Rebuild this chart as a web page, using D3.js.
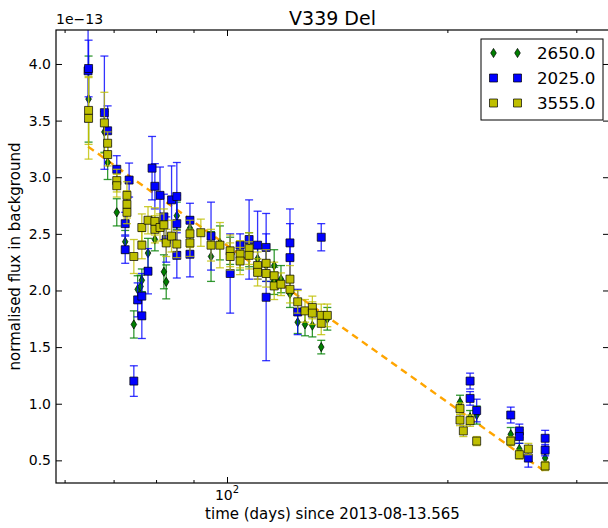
<!DOCTYPE html>
<head>
<meta charset="utf-8">
<style>
    body { margin: 0; background: #fff; }
    text { font-family: "DejaVu Sans", sans-serif; fill: #000; }
    .axis path { display: none; }
    .axis line { stroke: #000; stroke-width: 1; }
</style>
</head>
<body>
    <script src="https://d3js.org/d3.v7.min.js"></script>
    <script>

    ///////////////////////////
    ////////// DATA ///////////
    ///////////////////////////

    // 2650.0 (green diamonds)
    const gDays = [64.7, 68.0, 68.7, 70.7, 72.6, 74.6, 75.5, 76.2, 76.5, 78.0, 79.7, 82.0, 82.6, 85.4, 89.0,
                   95.1, 97.8, 101.0, 104.2, 107.2, 110.1, 113.1, 116.0, 116.0, 118.5, 121.9, 124.9, 127.8,
                   130.8, 134.5, 137.1, 208.1, 214.8, 219.3, 244.1, 250.8, 272.0];
    const gFlux = [3.69, 3.40, 3.13, 2.69, 2.43, 1.70, 2.01, 2.035, 2.09, 2.33, 2.45, 2.165, 2.076, 2.66, 2.55,
                   2.30, 2.42, 2.35, 2.30, 2.36, 2.28, 2.22, 2.22, 2.085, 2.10, 1.97, 1.72, 1.70,
                   1.69, 1.50, 1.75, 1.015, 0.88, 0.90, 0.73, 0.60, 0.52];
    const gErr  = [0.38, 0.18, 0.15, 0.12, 0.10, 0.12, 0.12, 0.10, 0.10, 0.13, 0.10, 0.15, 0.15, 0.12, 0.10,
                   0.22, 0.15, 0.12, 0.12, 0.15, 0.12, 0.14, 0.14, 0.12, 0.12, 0.12, 0.10, 0.10,
                   0.10, 0.06, 0.10, 0.06, 0.06, 0.08, 0.06, 0.05, 0.05];

    // 2025.0 (blue squares)
    const bDays = [64.6, 64.7, 68.0, 68.7, 70.7, 72.6, 72.6, 73.5, 74.6, 75.5, 76.5, 76.5, 78.0, 79.0, 79.7,
                   81.0, 82.0, 82.6, 84.0, 85.4, 85.4, 85.4, 89.0, 89.0, 95.1, 101.0, 104.2, 107.2, 110.1,
                   113.1, 113.1, 121.9, 121.9, 124.9, 134.5, 214.8, 214.8, 219.3, 244.1, 250.8, 250.8,
                   258.0, 272.0, 272.0];
    const bFlux = [3.94, 3.96, 3.57, 3.41, 3.07, 2.59, 2.36, 2.975, 1.20, 1.917, 1.95, 1.776, 2.17, 3.08, 2.92,
                   2.84, 2.65, 2.45, 2.80, 2.83, 2.59, 2.31, 2.62, 2.32, 2.48, 2.15, 2.40, 2.45, 2.40,
                   2.38, 1.94, 2.42, 2.29, 1.81, 2.47, 1.20, 1.047, 0.94, 0.90, 0.76, 0.71,
                   0.52, 0.695, 0.59];
    const bErr  = [0.45, 0.25, 0.50, 0.22, 0.12, 0.10, 0.12, 0.15, 0.135, 0.15, 0.20, 0.20, 0.20, 0.28, 0.20,
                   0.25, 0.20, 0.20, 0.30, 0.30, 0.25, 0.20, 0.15, 0.20, 0.30, 0.35, 0.10, 0.35, 0.30,
                   0.30, 0.56, 0.30, 0.30, 0.20, 0.12, 0.07, 0.06, 0.10, 0.07, 0.06, 0.06,
                   0.08, 0.07, 0.05];

    // 3555.0 (yellow squares)
    const yDays = [64.7, 64.7, 68.0, 68.7, 68.7, 70.7, 70.7, 73.0, 73.0, 73.0, 74.6, 76.5, 76.5, 78.0, 79.7,
                   79.7, 81.0, 82.0, 82.6, 84.0, 85.4, 89.0, 89.0, 92.1, 95.1, 97.8, 101.0, 101.0, 104.2,
                   104.2, 107.2, 107.2, 110.1, 110.1, 113.1, 113.1, 116.0, 116.0, 118.5, 121.9, 121.9,
                   124.9, 127.8, 130.8, 130.8, 134.5, 134.5, 137.1, 208.1, 208.1, 210.3, 214.8, 219.3,
                   244.1, 250.8, 258.0, 272.0];
    const yFlux = [3.59, 3.52, 3.48, 3.30, 3.20, 2.97, 2.925, 2.84, 2.76, 2.69, 2.30, 2.40, 2.556, 2.62, 2.61,
                   2.54, 2.556, 2.58, 2.42, 2.48, 2.41, 2.50, 2.42, 2.51, 2.40, 2.40, 2.35, 2.30, 2.32,
                   2.26, 2.37, 2.31, 2.22, 2.16, 2.24, 2.15, 2.13, 2.04, 2.055, 2.10, 2.01,
                   1.90, 1.82, 1.85, 1.80, 1.78, 1.71, 1.78, 0.957, 0.856, 0.76, 0.85, 0.67,
                   0.67, 0.55, 0.60, 0.45];
    const yErr  = [0.30, 0.36, 0.27, 0.10, 0.10, 0.10, 0.10, 0.12, 0.12, 0.10, 0.15, 0.12, 0.12, 0.12, 0.12,
                   0.12, 0.12, 0.14, 0.12, 0.14, 0.12, 0.12, 0.12, 0.12, 0.14, 0.20, 0.14, 0.12, 0.12,
                   0.12, 0.14, 0.12, 0.12, 0.12, 0.12, 0.12, 0.12, 0.12, 0.10, 0.12, 0.12,
                   0.10, 0.10, 0.10, 0.10, 0.10, 0.10, 0.10, 0.05, 0.05, 0.05, 0.05, 0.04,
                   0.04, 0.04, 0.05, 0.04];

    // fitted trend (dashed orange), end points
    const fitDays = [64.6, 272.0];
    const fitFlux = [3.27, 0.40];

    const xMajor = [100];
    const xMinor = [60, 70, 80, 90, 200, 300];
    const yTicks = [0.5, 1.0, 1.5, 2.0, 2.5, 3.0, 3.5, 4.0];
    const legendLabels = ['2650.0', '2025.0', '3555.0'];

    ///////////////////////////
    ////////// SETUP //////////
    ///////////////////////////

    const W = 608, H = 528;
    const plot = { left: 56, top: 30, right: 609, bottom: 483 };

    let svg = d3.select('body').append('svg')
        .attr('width', W)
        .attr('height', H);

    let x = d3.scaleLog().domain([58.4, 332.5]).range([plot.left, plot.right]);
    let y = d3.scaleLinear().domain([0.3, 4.3]).range([plot.bottom, plot.top]);

    svg.append('clipPath').attr('id', 'clip')
        .append('rect')
        .attr('x', plot.left).attr('y', plot.top)
        .attr('width', plot.right - plot.left).attr('height', plot.bottom - plot.top);

    const series = [
        { name: legendLabels[0], color: '#008000', shape: 'diamond', days: gDays, flux: gFlux, err: gErr },
        { name: legendLabels[1], color: '#0000ff', shape: 'square', days: bDays, flux: bFlux, err: bErr },
        { name: legendLabels[2], color: '#bfbf00', shape: 'square', days: yDays, flux: yFlux, err: yErr }
    ];

    function markerPath(shape) {
        if (shape === 'diamond') return 'M0,-4.6L2.8,0L0,4.6L-2.8,0Z';
        return 'M-4,-4H4V4H-4Z';
    }

    //////////////////////////
    ////////// MARKS /////////
    //////////////////////////

    let base = svg.append('g').attr('clip-path', 'url(#clip)');

    base.append('path')
        .datum(d3.zip(fitDays, fitFlux))
        .attr('d', d3.line().x(d => x(d[0])).y(d => y(d[1])))
        .attr('fill', 'none')
        .attr('stroke', '#ffa500')
        .attr('stroke-width', 2.4)
        .attr('stroke-dasharray', '7,5');

    series.forEach(s => {
        let pts = s.days.map((d, i) => ({ t: d, v: s.flux[i], e: s.err[i] }));
        let bars = base.append('g')
            .attr('stroke', s.color)
            .attr('stroke-width', 1.3)
            .attr('stroke-opacity', 0.8);
        bars.selectAll('line.v').data(pts).enter().append('line')
            .attr('x1', d => x(d.t)).attr('x2', d => x(d.t))
            .attr('y1', d => y(d.v - d.e)).attr('y2', d => y(d.v + d.e));
        bars.selectAll('line.top').data(pts).enter().append('line')
            .attr('x1', d => x(d.t) - 4).attr('x2', d => x(d.t) + 4)
            .attr('y1', d => y(d.v + d.e)).attr('y2', d => y(d.v + d.e));
        bars.selectAll('line.bot').data(pts).enter().append('line')
            .attr('x1', d => x(d.t) - 4).attr('x2', d => x(d.t) + 4)
            .attr('y1', d => y(d.v - d.e)).attr('y2', d => y(d.v - d.e));

        base.append('g').selectAll('path').data(pts).enter().append('path')
            .attr('d', markerPath(s.shape))
            .attr('transform', d => 'translate(' + x(d.t) + ',' + y(d.v) + ')')
            .attr('fill', s.color)
            .attr('stroke', '#000')
            .attr('stroke-opacity', 0.7)
            .attr('stroke-width', 1);
    });

    //////////////////////////
    ////////// AXES //////////
    //////////////////////////

    svg.append('rect')
        .attr('x', plot.left).attr('y', plot.top)
        .attr('width', plot.right - plot.left).attr('height', plot.bottom - plot.top)
        .attr('fill', 'none').attr('stroke', '#000').attr('stroke-width', 1.2);

    svg.append('g').attr('class', 'axis')
        .attr('transform', 'translate(' + plot.left + ',0)')
        .call(d3.axisLeft(y).tickValues(yTicks).tickSize(-6).tickSizeOuter(0).tickPadding(5)
            .tickFormat(d3.format('.1f')))
        .selectAll('text').style('font-size', '14px');
    svg.append('g').attr('class', 'axis')
        .attr('transform', 'translate(' + plot.right + ',0)')
        .call(d3.axisRight(y).tickValues(yTicks).tickSize(-6).tickSizeOuter(0).tickFormat(''));

    [['axisBottom', plot.bottom], ['axisTop', plot.top]].forEach(([fn, pos]) => {
        svg.append('g').attr('class', 'axis')
            .attr('transform', 'translate(0,' + pos + ')')
            .call(d3[fn](x).tickValues(xMinor).tickSize(-3).tickSizeOuter(0).tickFormat(''));
        svg.append('g').attr('class', 'axis')
            .attr('transform', 'translate(0,' + pos + ')')
            .call(d3[fn](x).tickValues(xMajor).tickSize(-6).tickSizeOuter(0).tickFormat(''));
    });

    // 10^2 label
    xMajor.forEach(v => {
        let lab = svg.append('text')
            .attr('x', x(v))
            .attr('y', plot.bottom + 17)
            .attr('text-anchor', 'middle')
            .style('font-size', '14px');
        lab.append('tspan').text('10');
        lab.append('tspan').attr('dy', -7).style('font-size', '10px').text(Math.log10(v));
    });

    svg.append('text')
        .attr('x', plot.left)
        .attr('y', plot.top - 6)
        .style('font-size', '14px')
        .text('1e\u221213');

    svg.append('text')
        .attr('x', (plot.left + plot.right) / 2)
        .attr('y', plot.top - 5)
        .attr('text-anchor', 'middle')
        .style('font-size', '19px')
        .text('V339 Del');

    svg.append('text')
        .attr('x', (plot.left + plot.right) / 2)
        .attr('y', 519)
        .attr('text-anchor', 'middle')
        .style('font-size', '15px')
        .text('time (days) since 2013-08-13.565');

    svg.append('text')
        .attr('transform', 'translate(20,' + (plot.top + plot.bottom) / 2 + ') rotate(-90)')
        .attr('text-anchor', 'middle')
        .style('font-size', '15px')
        .text('normalised flux in background');

    ////////////////////////////
    ////////// LEGEND //////////
    ////////////////////////////

    let legend = svg.append('g').attr('transform', 'translate(481,39)');
    legend.append('rect')
        .attr('width', 122).attr('height', 81)
        .attr('fill', '#fff').attr('stroke', '#000').attr('stroke-width', 1);

    let rows = legend.selectAll('g.row').data(series).enter().append('g')
        .attr('transform', (d, i) => 'translate(0,' + (14 + i * 25) + ')');
    [12.5, 36.5].forEach(mx => {
        rows.append('path')
            .attr('d', d => markerPath(d.shape))
            .attr('transform', 'translate(' + mx + ',0)')
            .attr('fill', d => d.color)
            .attr('stroke', '#000').attr('stroke-opacity', 0.7).attr('stroke-width', 1);
    });
    rows.append('text')
        .attr('x', 56)
        .attr('dy', '0.36em')
        .style('font-size', '16.7px')
        .text(d => d.name);

    </script>
</body>
